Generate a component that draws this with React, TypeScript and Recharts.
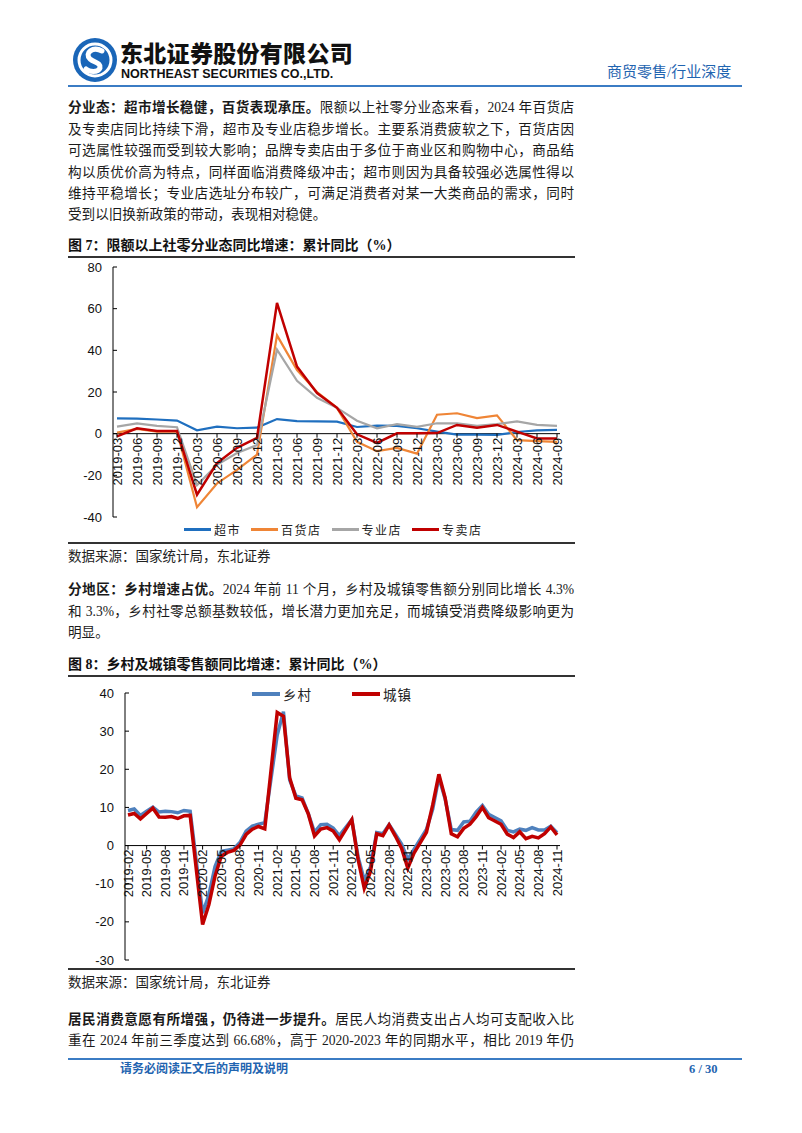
import React from "react";
import { LineChart, Line, XAxis, YAxis, ReferenceLine, Legend } from "recharts";

// 图7 季度数据
const quarters = [
  "2019-03", "2019-06", "2019-09", "2019-12",
  "2020-03", "2020-06", "2020-09", "2020-12",
  "2021-03", "2021-06", "2021-09", "2021-12",
  "2022-03", "2022-06", "2022-09", "2022-12",
  "2023-03", "2023-06", "2023-09", "2023-12",
  "2024-03", "2024-06", "2024-09",
];
const superMarket = [7.3, 7.2, 6.8, 6.3, 1.6, 3.4, 2.6, 2.9, 7.0, 6.0, 5.9, 5.8, 3.2, 3.9, 3.7, 2.6, 1.0, -0.5, -0.5, -0.6, 0.8, 1.6, 1.8];
const deptStore = [0.5, 2.3, 1.0, 1.0, -35.3, -23.9, -17.4, -10.1, 47.2, 30.5, 20.0, 12.4, -3.9, -8.4, -6.8, -9.6, 9.1, 9.8, 7.5, 8.8, -3.1, -3.6, -3.9];
const specialtyStore = [3.4, 4.9, 3.7, 3.1, -24.7, -15.0, -9.3, -5.5, 40.3, 25.4, 17.2, 12.4, 6.2, 2.6, 4.6, 3.3, 5.0, 4.9, 3.7, 4.6, 5.9, 4.2, 3.7];
const brandStore = [-1.3, 2.6, 1.3, 1.3, -29.3, -14.1, -6.8, -2.0, 62.8, 32.2, 19.5, 12.4, -0.3, -4.4, 0.2, 0.2, 0.3, 4.2, 2.9, 4.2, 1.0, -2.3, -2.3];
const fig7Ticks = [-40, -20, 0, 20, 40, 60, 80];
const fig7Names = ["超市", "百货店", "专业店", "专卖店"];

// 图8 月度数据（1月无数据）
const months = [
  "2019-02", "2019-03", "2019-04", "2019-05", "2019-06", "2019-07", "2019-08", "2019-09", "2019-10", "2019-11", "2019-12",
  "2020-01", "2020-02", "2020-03", "2020-04", "2020-05", "2020-06", "2020-07", "2020-08", "2020-09", "2020-10", "2020-11", "2020-12",
  "2021-01", "2021-02", "2021-03", "2021-04", "2021-05", "2021-06", "2021-07", "2021-08", "2021-09", "2021-10", "2021-11", "2021-12",
  "2022-01", "2022-02", "2022-03", "2022-04", "2022-05", "2022-06", "2022-07", "2022-08", "2022-09", "2022-10", "2022-11", "2022-12",
  "2023-01", "2023-02", "2023-03", "2023-04", "2023-05", "2023-06", "2023-07", "2023-08", "2023-09", "2023-10", "2023-11", "2023-12",
  "2024-01", "2024-02", "2024-03", "2024-04", "2024-05", "2024-06", "2024-07", "2024-08", "2024-09", "2024-10", "2024-11",
];
const rural = [
  9.2, 9.6, 7.9, 9.0, 10.1, 8.8, 9.0, 8.9, 8.6, 9.2, 9.0,
  null, -17.7, -13.0, -5.5, -1.5, -1.2, -0.9, 0.8, 3.8, 5.1, 5.6, 6.0,
  null, 29.0, 35.1, 17.2, 13.0, 12.5, 8.4, 3.5, 5.5, 5.6, 4.6, 2.6,
  null, 6.8, -2.9, -9.1, -5.6, 3.4, 3.1, 5.5, 3.0, 0.4, -3.6, -1.0,
  null, 4.2, 9.5, 17.9, 12.3, 4.2, 4.0, 6.2, 6.4, 8.8, 10.5, 8.2,
  null, 6.5, 4.0, 3.6, 4.3, 4.0, 4.7, 4.1, 4.1, 5.1, 3.4,
];
const urban = [
  8.0, 8.4, 7.0, 8.4, 9.8, 7.5, 7.4, 7.6, 7.1, 7.8, 7.9,
  null, -20.7, -15.5, -8.0, -2.8, -1.8, -1.3, 0.1, 2.9, 4.3, 5.0, 4.4,
  null, 34.9, 33.9, 17.8, 12.4, 12.0, 8.3, 2.5, 4.3, 4.7, 3.8, 1.5,
  null, 6.8, -3.6, -11.2, -6.8, 3.1, 2.6, 5.4, 2.5, -0.7, -5.9, -2.0,
  null, 3.5, 10.6, 18.7, 12.6, 3.1, 2.3, 4.5, 5.6, 7.6, 10.0, 7.3,
  null, 5.6, 3.0, 2.1, 3.6, 1.8, 2.4, 2.0, 3.1, 4.9, 2.8,
];
const fig8Ticks = [-30, -20, -10, 0, 10, 20, 30, 40];
const fig8Names = ["乡村", "城镇"];

const fig7Data = quarters.map((q, i) => ({
  q,
  超市: superMarket[i],
  百货店: deptStore[i],
  专业店: specialtyStore[i],
  专卖店: brandStore[i],
}));
const fig8Data = months.map((m, i) => ({ m, 乡村: rural[i], 城镇: urban[i] }));

const BODY_FONT = '"Liberation Serif", "Noto Sans CJK SC", serif';
const AXIS_FONT = '"Liberation Sans", Arial, sans-serif';
const CJK_FONT = '"Noto Sans CJK SC", sans-serif';
const BLUE = "#1f64b0";

// 绘图区高度
const P1_H = 250;
const P2_H = 267;

function YTick(props: any) {
  const { x, y, payload } = props;
  return (
    <g>
      <line x1={x} x2={x + 4} y1={y} y2={y} stroke="#000" />
      <text x={x - 11} y={y} textAnchor="end" dominantBaseline="central" fontSize={13} fontFamily={AXIS_FONT} fill="#111">
        {payload.value}
      </text>
    </g>
  );
}

function makeXTick(shift: number) {
  return function XTick(props: any) {
    const { x, y, payload } = props;
    const y0 = y + shift;
    return (
      <g>
        <line x1={x} x2={x} y1={y0} y2={y0 + 4} stroke="#000" />
        <text
          transform={`translate(${x},${y0 + 4}) rotate(-90)`}
          textAnchor="end"
          dominantBaseline="central"
          fontSize={13}
          fontFamily={AXIS_FONT}
          fill="#111"
        >
          {payload.value}
        </text>
      </g>
    );
  };
}

function LegendRow(props: any) {
  const { payload, order, lineW, thick, fontSize, gap, spacing } = props;
  const items = [...(payload || [])].sort((a: any, b: any) => order.indexOf(a.value) - order.indexOf(b.value));
  return (
    <div style={{ display: "flex", alignItems: "center", whiteSpace: "nowrap" }}>
      {items.map((p: any) => (
        <div key={p.value} style={{ display: "flex", alignItems: "center", marginRight: gap }}>
          <span style={{ display: "inline-block", width: lineW, height: thick, background: p.color, marginRight: 3 }} />
          <span style={{ fontFamily: CJK_FONT, fontSize, letterSpacing: spacing, color: "#222" }}>{p.value}</span>
        </div>
      ))}
    </div>
  );
}

function Fig7Chart() {
  const shift = -P1_H * (0 - -40) / (80 - -40);
  return (
    <LineChart width={507} height={284} data={fig7Data} margin={{ top: 9, right: 15, bottom: 0, left: 0 }}>
      <XAxis
        dataKey="q"
        height={25}
        interval={0}
        axisLine={false}
        tickLine={false}
        tickSize={0}
        tickMargin={0}
        padding={{ left: 4, right: 3 }}
        tick={makeXTick(shift)}
      />
      <YAxis
        type="number"
        domain={[-40, 80]}
        ticks={fig7Ticks}
        interval={0}
        width={45}
        tickLine={false}
        tickSize={0}
        tickMargin={0}
        axisLine={{ stroke: "#000" }}
        tick={<YTick />}
      />
      <ReferenceLine y={0} stroke="#000" />
      <Line dataKey="超市" stroke="#1f6fbf" strokeWidth={2.2} dot={false} isAnimationActive={false} />
      <Line dataKey="百货店" stroke="#ef8536" strokeWidth={2.2} dot={false} isAnimationActive={false} />
      <Line dataKey="专业店" stroke="#a6a6a6" strokeWidth={2.2} dot={false} isAnimationActive={false} />
      <Line dataKey="专卖店" stroke="#c00000" strokeWidth={2.5} dot={false} isAnimationActive={false} />
      <Legend
        layout="vertical"
        align="center"
        verticalAlign="middle"
        wrapperStyle={{ left: 116, top: 263, width: 400 }}
        content={(p: any) => (
          <LegendRow payload={p.payload} order={fig7Names} lineW={27} thick={3} fontSize={12} gap={10} spacing={1.5} />
        )}
      />
    </LineChart>
  );
}

function Fig8Chart() {
  const shift = -P2_H * (0 - -30) / (40 - -30);
  return (
    <LineChart width={507} height={292} data={fig8Data} margin={{ top: 17, right: 15, bottom: 0, left: 0 }}>
      <XAxis
        dataKey="m"
        height={8}
        interval={2}
        axisLine={false}
        tickLine={false}
        tickSize={0}
        tickMargin={0}
        padding={{ left: 3, right: 3 }}
        tick={makeXTick(shift)}
      />
      <YAxis
        type="number"
        domain={[-30, 40]}
        ticks={fig8Ticks}
        interval={0}
        width={57}
        tickLine={false}
        tickSize={0}
        tickMargin={0}
        axisLine={{ stroke: "#000" }}
        tick={<YTick />}
      />
      <ReferenceLine y={0} stroke="#000" />
      <Line dataKey="乡村" stroke="#4f81bd" strokeWidth={3.5} dot={false} connectNulls isAnimationActive={false} />
      <Line dataKey="城镇" stroke="#c00000" strokeWidth={3.5} dot={false} connectNulls isAnimationActive={false} />
      <Legend
        layout="vertical"
        align="center"
        verticalAlign="middle"
        wrapperStyle={{ left: 184, top: 8, width: 300 }}
        content={(p: any) => (
          <LegendRow payload={p.payload} order={fig8Names} lineW={28} thick={4} fontSize={13.5} gap={40} spacing={1} />
        )}
      />
    </LineChart>
  );
}

function TextLine({ center, last, children }: any) {
  return (
    <div
      style={{
        position: "absolute",
        left: 68,
        top: center - 11,
        width: 506,
        height: 22,
        lineHeight: "22px",
        fontSize: 13.6,
        fontFamily: BODY_FONT,
        color: "#1a1a1a",
        textAlign: "justify",
        textAlignLast: last ? "left" : "justify",
      }}
    >
      {children}
    </div>
  );
}

function FigTitle({ center, text }: any) {
  return (
    <>
      <div
        style={{
          position: "absolute",
          left: 68,
          top: center - 11,
          height: 22,
          lineHeight: "22px",
          fontSize: 14,
          fontWeight: 700,
          fontFamily: BODY_FONT,
          color: "#111",
          whiteSpace: "nowrap",
        }}
      >
        {text}
      </div>
      <div style={{ position: "absolute", left: 68, top: center + 10, width: 507, height: 1.5, background: "#333" }} />
    </>
  );
}

function Source({ lineTop }: any) {
  return (
    <>
      <div style={{ position: "absolute", left: 68, top: lineTop, width: 507, height: 1.5, background: "#333" }} />
      <div
        style={{
          position: "absolute",
          left: 68,
          top: lineTop + 4,
          lineHeight: "22px",
          fontSize: 13.5,
          fontFamily: BODY_FONT,
          color: "#222",
          whiteSpace: "nowrap",
        }}
      >
        数据来源：国家统计局，东北证券
      </div>
    </>
  );
}

function Logo() {
  return (
    <svg width={48} height={48} style={{ position: "absolute", left: 71, top: 36 }}>
      <circle cx={24} cy={24} r={22} fill="#1a66b8" />
      <circle cx={24} cy={24} r={16} fill="none" stroke="#fff" strokeWidth={3} />
      <path d="M31 15 C 22 10, 13 17, 19 23 C 24 27, 30 27, 29 32 C 27 37, 18 36, 15 33" fill="none" stroke="#fff" strokeWidth={5} strokeLinecap="round" />
    </svg>
  );
}

export default function App() {
  const b = (s: string) => <span style={{ fontWeight: 700 }}>{s}</span>;
  return (
    <div style={{ position: "absolute", left: 0, top: 0, width: 802, height: 1133, background: "#fff", overflow: "hidden" }}>
      <Logo />
      <div
        style={{
          position: "absolute",
          left: 120,
          top: 40,
          fontSize: 23,
          lineHeight: "24px",
          fontWeight: 900,
          fontFamily: CJK_FONT,
          color: "#111",
          whiteSpace: "nowrap",
          letterSpacing: 0.3,
        }}
      >
        东北证券股份有限公司
      </div>
      <div
        style={{
          position: "absolute",
          left: 121,
          top: 67,
          fontSize: 12.5,
          lineHeight: "14px",
          fontWeight: 700,
          fontFamily: AXIS_FONT,
          color: "#111",
          whiteSpace: "nowrap",
        }}
      >
        NORTHEAST SECURITIES CO.,LTD.
      </div>
      <div
        style={{
          position: "absolute",
          left: 607,
          top: 62,
          fontSize: 15,
          lineHeight: "20px",
          fontFamily: BODY_FONT,
          color: BLUE,
          whiteSpace: "nowrap",
        }}
      >
        商贸零售/行业深度
      </div>
      <div style={{ position: "absolute", left: 68, top: 85, width: 674, height: 1.5, background: "#3b7cc4" }} />

      <TextLine center={108}>
        {b("分业态：超市增长稳健，百货表现承压。")}限额以上社零分业态来看，2024 年百货店
      </TextLine>
      <TextLine center={130}>及专卖店同比持续下滑，超市及专业店稳步增长。主要系消费疲软之下，百货店因</TextLine>
      <TextLine center={151}>可选属性较强而受到较大影响；品牌专卖店由于多位于商业区和购物中心，商品结</TextLine>
      <TextLine center={173}>构以质优价高为特点，同样面临消费降级冲击；超市则因为具备较强必选属性得以</TextLine>
      <TextLine center={194}>维持平稳增长；专业店选址分布较广，可满足消费者对某一大类商品的需求，同时</TextLine>
      <TextLine center={215} last>受到以旧换新政策的带动，表现相对稳健。</TextLine>

      <FigTitle center={246} text="图 7：限额以上社零分业态同比增速：累计同比（%）" />
      <div style={{ position: "absolute", left: 68, top: 258 }}>
        <Fig7Chart />
      </div>
      <Source lineTop={542} />

      <TextLine center={590}>
        {b("分地区：乡村增速占优。")}2024 年前 11 个月，乡村及城镇零售额分别同比增长 4.3%
      </TextLine>
      <TextLine center={612}>和 3.3%，乡村社零总额基数较低，增长潜力更加充足，而城镇受消费降级影响更为</TextLine>
      <TextLine center={633} last>明显。</TextLine>

      <FigTitle center={665} text="图 8：乡村及城镇零售额同比增速：累计同比（%）" />
      <div style={{ position: "absolute", left: 68, top: 676 }}>
        <Fig8Chart />
      </div>
      <Source lineTop={968} />

      <TextLine center={1020}>
        {b("居民消费意愿有所增强，仍待进一步提升。")}居民人均消费支出占人均可支配收入比
      </TextLine>
      <TextLine center={1041}>重在 2024 年前三季度达到 66.68%，高于 2020-2023 年的同期水平，相比 2019 年仍</TextLine>

      <div style={{ position: "absolute", left: 68, top: 1058, width: 674, height: 1.5, background: "#3b7cc4" }} />
      <div
        style={{
          position: "absolute",
          left: 120,
          top: 1061,
          fontSize: 12,
          lineHeight: "16px",
          fontWeight: 700,
          fontFamily: BODY_FONT,
          color: BLUE,
          whiteSpace: "nowrap",
        }}
      >
        请务必阅读正文后的声明及说明
      </div>
      <div
        style={{
          position: "absolute",
          left: 689,
          top: 1061,
          fontSize: 12.5,
          lineHeight: "16px",
          fontWeight: 700,
          fontFamily: BODY_FONT,
          color: BLUE,
          whiteSpace: "nowrap",
        }}
      >
        6 / 30
      </div>
    </div>
  );
}
